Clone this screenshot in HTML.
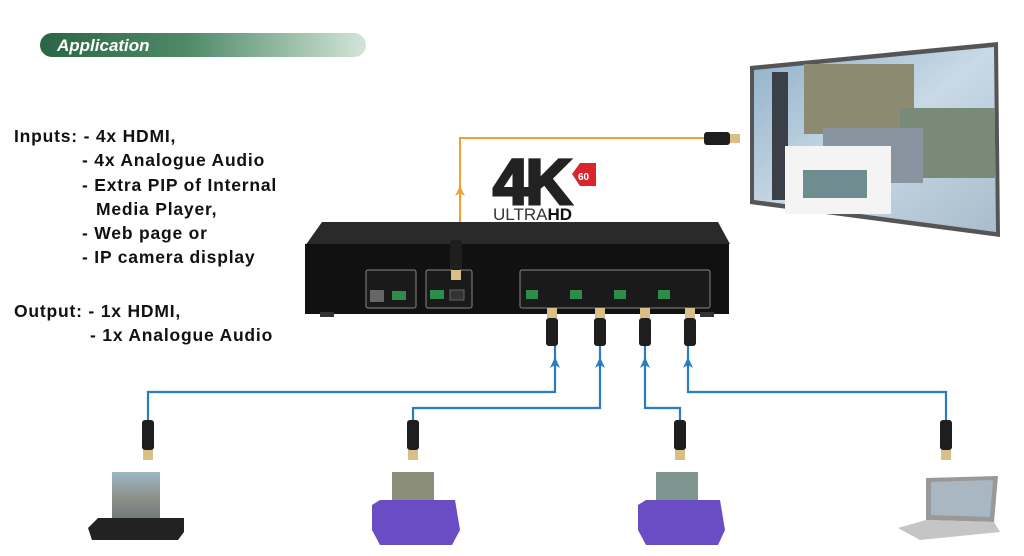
<!DOCTYPE html>
<html><head><meta charset="utf-8"><style>
html,body{margin:0;padding:0;background:#fff;}
svg{display:block}
.t{font-family:"Liberation Sans",sans-serif;font-weight:bold;font-size:17.5px;letter-spacing:0.8px;fill:#111}
</style></head><body>
<svg width="1024" height="556" viewBox="0 0 1024 556" xmlns="http://www.w3.org/2000/svg">
<defs>
<linearGradient id="gb" x1="0" x2="1" y1="0" y2="0">
<stop offset="0" stop-color="#2a6545"/><stop offset="0.45" stop-color="#4f8a68"/><stop offset="1" stop-color="#d3e5d8"/></linearGradient>
<linearGradient id="tv" x1="0" x2="1" y1="0" y2="1">
<stop offset="0" stop-color="#8fb0c8"/><stop offset="0.5" stop-color="#c9d9e6"/><stop offset="1" stop-color="#a8bdcc"/></linearGradient>
<linearGradient id="pic" x1="0" x2="0" y1="0" y2="1">
<stop offset="0" stop-color="#9fb7c6"/><stop offset="0.5" stop-color="#8a8f86"/><stop offset="1" stop-color="#6c7078"/></linearGradient>
<g id="plugv"><rect x="-6" y="0" width="12" height="30" rx="3" fill="#1e1e1e"/><rect x="-5" y="30" width="10" height="10" fill="#d9bf85"/></g>
<g id="plugu"><rect x="-5" y="0" width="10" height="10" fill="#d9bf85"/><rect x="-6" y="10" width="12" height="28" rx="3" fill="#1e1e1e"/></g>
</defs>
<rect x="40" y="33" width="326" height="24" rx="12" fill="url(#gb)"/>
<text x="57" y="51" font-family="Liberation Sans,sans-serif" font-weight="bold" font-style="italic" font-size="17" fill="#fff">Application</text>

<text class="t" x="14" y="142">Inputs: - 4x HDMI,</text>
<text class="t" x="82" y="166">- 4x Analogue Audio</text>
<text class="t" x="82" y="191">- Extra PIP of Internal</text>
<text class="t" x="96" y="215">Media Player,</text>
<text class="t" x="82" y="239">- Web page or</text>
<text class="t" x="82" y="263">- IP camera display</text>
<text class="t" x="14" y="317">Output: - 1x HDMI,</text>
<text class="t" x="90" y="341">- 1x Analogue Audio</text>

<!-- TV -->
<polygon points="750,66 998,42 1000,237 750,204" fill="#555"/>
<polygon points="754,70 994,47 996,232 754,200" fill="url(#tv)"/>
<rect x="772" y="72" width="16" height="128" fill="#3a3f48"/>
<rect x="804" y="64" width="110" height="70" fill="#8c8a70"/>
<rect x="900" y="108" width="95" height="70" fill="#7a8a78"/>
<rect x="823" y="128" width="100" height="55" fill="#8895a0"/>
<rect x="785" y="146" width="106" height="68" fill="#f4f4f4"/>
<rect x="803" y="170" width="64" height="28" fill="#6f8c90"/>

<!-- orange line -->
<polyline points="460,250 460,138 704,138" fill="none" stroke="#f0a030" stroke-width="2"/>
<polygon points="455,196 460,186 465,196 460,193" fill="#f0a030"/>
<rect x="704" y="132" width="26" height="13" rx="3" fill="#1e1e1e"/><rect x="730" y="134" width="10" height="9" fill="#d9bf85"/>

<!-- 4K logo -->
<text x="493" y="204" font-family="Liberation Sans,sans-serif" font-weight="bold" font-size="64" fill="#222" stroke="#222" stroke-width="3" letter-spacing="-3">4K</text>
<polygon points="572,174 580,163 596,163 596,186 580,186" fill="#d8262c"/>
<text x="578" y="180" font-family="Liberation Sans,sans-serif" font-weight="bold" font-size="10" fill="#fff">60</text>
<text x="493" y="220" font-family="Liberation Sans,sans-serif" font-size="17" fill="#333">ULTRA<tspan font-weight="bold" fill="#111">HD</tspan></text>

<!-- device -->
<polygon points="322,222 718,222 730,244 305,246" fill="#2a2a2a"/>
<rect x="305" y="244" width="424" height="70" fill="#111"/>
<rect x="320" y="312" width="14" height="5" fill="#333"/><rect x="700" y="312" width="14" height="5" fill="#333"/>
<rect x="366" y="270" width="50" height="38" rx="2" fill="#1a1a1a" stroke="#888"/>
<rect x="370" y="290" width="14" height="12" fill="#666"/><rect x="392" y="291" width="14" height="9" fill="#2e8c4a"/>
<rect x="426" y="270" width="46" height="38" rx="2" fill="#1a1a1a" stroke="#888"/>
<rect x="430" y="290" width="14" height="9" fill="#2e8c4a"/><rect x="450" y="290" width="14" height="10" fill="#333" stroke="#666"/>
<rect x="520" y="270" width="190" height="38" rx="2" fill="#1a1a1a" stroke="#888"/>
<rect x="526" y="290" width="12" height="9" fill="#2e8c4a"/><rect x="570" y="290" width="12" height="9" fill="#2e8c4a"/><rect x="614" y="290" width="12" height="9" fill="#2e8c4a"/><rect x="658" y="290" width="12" height="9" fill="#2e8c4a"/>
<rect x="450" y="240" width="12" height="30" rx="3" fill="#1e1e1e"/><rect x="451" y="270" width="10" height="10" fill="#d9bf85"/>
<use href="#plugu" x="552" y="308"/><use href="#plugu" x="600" y="308"/><use href="#plugu" x="645" y="308"/><use href="#plugu" x="690" y="308"/>

<!-- blue lines -->
<g fill="none" stroke="#2a7bc4" stroke-width="2.2">
<polyline points="555,346 555,392 148,392 148,422"/>
<polyline points="600,346 600,408 413,408 413,422"/>
<polyline points="645,346 645,408 680,408 680,422"/>
<polyline points="688,346 688,392 946,392 946,422"/>
</g>
<g fill="#2a7bc4">
<polygon points="550,368 555,357 560,368 555,365"/><polygon points="595,368 600,357 605,368 600,365"/>
<polygon points="640,368 645,357 650,368 645,365"/><polygon points="683,368 688,357 693,368 688,365"/>
</g>
<use href="#plugv" x="148" y="420"/><use href="#plugv" x="413" y="420"/><use href="#plugv" x="680" y="420"/><use href="#plugv" x="946" y="420"/>

<!-- sources -->
<rect x="112" y="472" width="48" height="54" fill="url(#pic)"/>
<polygon points="88,528 98,518 184,518 184,532 178,540 92,540" fill="#222"/>
<rect x="392" y="472" width="42" height="40" fill="#8b8f7a"/>
<polygon points="372,505 380,500 455,500 460,530 452,545 380,545 372,530" fill="#6a4cc4"/>
<rect x="656" y="472" width="42" height="40" fill="#7f958f"/>
<polygon points="638,505 646,500 720,500 725,530 718,545 646,545 638,530" fill="#6a4cc4"/>
<polygon points="926,478 998,476 994,522 926,520" fill="#999"/>
<polygon points="931,482 993,480 990,517 931,515" fill="#a8b7c2"/>
<polygon points="898,528 926,520 994,522 1000,532 920,540" fill="#c5c5c5"/>
</svg>
</body></html>
